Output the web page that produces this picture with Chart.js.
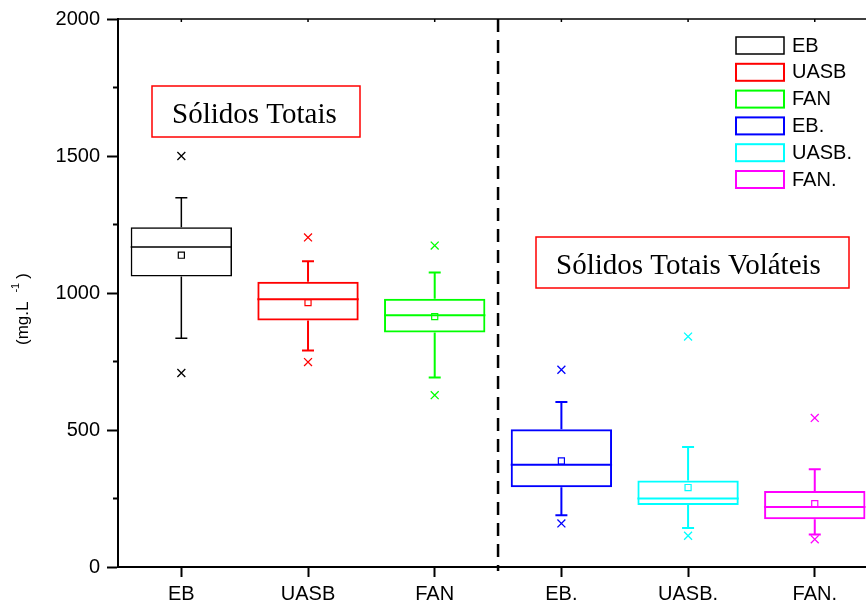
<!DOCTYPE html>
<html>
<head>
<meta charset="utf-8">
<title>Sólidos Totais</title>
<script src="https://cdn.jsdelivr.net/npm/chart.js@4.4.1/dist/chart.umd.min.js"></script>
<style>
  html, body { margin: 0; padding: 0; background: #fff; overflow: hidden; }
  #wrap { width: 866px; height: 602px; overflow: hidden; }
  canvas { display: block; }
</style>
</head>
<body>
<div id="wrap"><canvas id="chart" width="885" height="602"></canvas></div>
<script>
'use strict';

/* ── DATA (mg/L) ── */
const groups    = ['EB', 'UASB', 'FAN', 'EB.', 'UASB.', 'FAN.'];
const colors    = ['#000000', '#ff0000', '#00ff00', '#0000ff', '#00ffff', '#ff00ff'];
const q1        = [1060, 900, 856, 291, 226, 174];
const q3        = [1240, 1041, 979, 503, 316, 277];
const medians   = [1168, 977, 919, 373, 250, 219];
const means     = [1138, 965, 914, 387, 290, 231];
const whiskLow  = [835, 790, 692, 189, 142, 119];
const whiskHigh = [1348, 1116, 1075, 602, 438, 357];
const outHigh   = [1500, 1203, 1173, 720, 841, 544];
const outLow    = [708, 748, 627, 159, 114, 101];
const yTicks    = [0, 500, 1000, 1500, 2000];

const SANS  = "'Liberation Sans', Arial, sans-serif";
const SERIF = "'Liberation Serif', 'Times New Roman', serif";

// framed titles over the two halves of the plot
const notes = [
  { text: 'Sólidos Totais',          x: 152, y: 86,  w: 208, h: 51 },
  { text: 'Sólidos Totais Voláteis', x: 536, y: 237, w: 313, h: 51 }
];

/* ── DATASETS ── */
// one floating bar (q1..q3) per group, so each box keeps its own colour/legend entry
const boxSets = groups.map((g, i) => ({
  type: 'bar',
  label: g,
  data: groups.map((_, j) => (j === i ? [q1[i], q3[i]] : null)),
  backgroundColor: 'rgba(255,255,255,0)',
  borderColor: colors[i],
  borderWidth: i === 0 ? 1.5 : 2,
  borderSkipped: false,
  grouped: false,
  barPercentage: 0.8,
  categoryPercentage: 1.0
}));

const pointSet = (label, values, style, radius, width) => ({
  type: 'line',
  label: label,
  data: values,
  showLine: false,
  pointStyle: style,
  pointRadius: radius,
  pointHoverRadius: radius,
  pointBorderWidth: width,
  pointBorderColor: colors,
  pointBackgroundColor: 'rgba(255,255,255,0)'
});

/* ── EXTRA DRAWING: whiskers, medians, frame, legend, notes ── */
const boxExtras = {
  id: 'boxExtras',

  beforeDatasetsDraw(chart) {
    const { ctx, chartArea: a, scales: { x } } = chart;
    // dashed divider between the two families
    const xd = (x.getPixelForValue(2) + x.getPixelForValue(3)) / 2;
    ctx.save();
    ctx.strokeStyle = '#000';
    ctx.lineWidth = 2.5;
    ctx.setLineDash([13, 8]);
    ctx.beginPath();
    ctx.moveTo(xd, a.top);
    ctx.lineTo(xd, a.bottom + 4);
    ctx.stroke();
    ctx.restore();
  },

  afterDatasetsDraw(chart) {
    const { ctx, scales: { x, y } } = chart;
    ctx.save();
    groups.forEach((g, i) => {
      const bar = chart.getDatasetMeta(i).data[i];
      const cx = x.getPixelForValue(i);
      const cap = 6;
      ctx.strokeStyle = colors[i];
      ctx.lineWidth = i === 0 ? 1.5 : 2;
      ctx.beginPath();
      // upper whisker
      ctx.moveTo(cx, y.getPixelForValue(q3[i]));
      ctx.lineTo(cx, y.getPixelForValue(whiskHigh[i]));
      ctx.moveTo(cx - cap, y.getPixelForValue(whiskHigh[i]));
      ctx.lineTo(cx + cap, y.getPixelForValue(whiskHigh[i]));
      // lower whisker
      ctx.moveTo(cx, y.getPixelForValue(q1[i]));
      ctx.lineTo(cx, y.getPixelForValue(whiskLow[i]));
      ctx.moveTo(cx - cap, y.getPixelForValue(whiskLow[i]));
      ctx.lineTo(cx + cap, y.getPixelForValue(whiskLow[i]));
      // median
      const ym = y.getPixelForValue(medians[i]);
      ctx.moveTo(bar.x - bar.width / 2, ym);
      ctx.lineTo(bar.x + bar.width / 2, ym);
      ctx.stroke();
    });
    ctx.restore();
  },

  afterDraw(chart) {
    const { ctx, chartArea: a, scales: { x, y } } = chart;
    ctx.save();

    // top frame line with small inner ticks
    ctx.strokeStyle = '#000';
    ctx.lineWidth = 1.5;
    ctx.beginPath();
    ctx.moveTo(a.left, a.top);
    ctx.lineTo(a.right, a.top);
    groups.forEach((g, i) => {
      const cx = x.getPixelForValue(i);
      ctx.moveTo(cx, a.top);
      ctx.lineTo(cx, a.top + 3);
    });
    ctx.stroke();

    // minor ticks halfway between the labelled ones
    ctx.lineWidth = 2;
    ctx.beginPath();
    for (let k = 0; k < yTicks.length - 1; k++) {
      const yy = y.getPixelForValue((yTicks[k] + yTicks[k + 1]) / 2);
      ctx.moveTo(a.left - 5, yy);
      ctx.lineTo(a.left, yy);
    }
    ctx.stroke();

    // legend
    ctx.font = '20px ' + SANS;
    ctx.textBaseline = 'middle';
    ctx.textAlign = 'left';
    boxSets.forEach((ds, i) => {
      const top = 37 + i * 26.8;
      ctx.strokeStyle = ds.borderColor;
      ctx.lineWidth = i === 0 ? 1.5 : 2;
      ctx.strokeRect(736, top, 48, 17);
      ctx.fillStyle = '#000';
      ctx.fillText(ds.label, 792, top + 9);
    });

    // framed titles
    notes.forEach(n => {
      ctx.strokeStyle = '#ff0000';
      ctx.lineWidth = 1.5;
      ctx.strokeRect(n.x, n.y, n.w, n.h);
      ctx.fillStyle = '#000';
      ctx.font = '29px ' + SERIF;
      ctx.textBaseline = 'alphabetic';
      ctx.fillText(n.text, n.x + 20, n.y + 37);
    });

    // y axis unit, with superscript exponent
    ctx.translate(28, 345);
    ctx.rotate(-Math.PI / 2);
    ctx.fillStyle = '#000';
    ctx.textBaseline = 'alphabetic';
    ctx.font = '17px ' + SANS;
    const base = '(mg.L';
    ctx.fillText(base, 0, 0);
    const w = ctx.measureText(base).width;
    ctx.font = '11px ' + SANS;
    ctx.fillText('-1', w + 9, -9);
    const w2 = ctx.measureText('-1').width;
    ctx.font = '17px ' + SANS;
    ctx.fillText(')', w + 9 + w2 + 4, 0);

    ctx.restore();
  }
};

/* ── CHART ── */
new Chart(document.getElementById('chart'), {
  type: 'bar',
  data: {
    labels: groups,
    datasets: [
      ...boxSets,
      pointSet('mean', means, 'rect', 4.3, 1.2),
      pointSet('max', outHigh, 'crossRot', 5.6, 1.3),
      pointSet('min', outLow, 'crossRot', 5.6, 1.3)
    ]
  },
  options: {
    responsive: false,
    animation: false,
    events: [],
    layout: { padding: { left: 0, top: 18, right: 1, bottom: 0 } },
    plugins: {
      legend: { display: false },
      tooltip: { enabled: false }
    },
    scales: {
      x: {
        type: 'category',
        offset: true,
        grid: {
          offset: false,
          drawOnChartArea: false,
          drawTicks: true,
          tickLength: 10,
          tickWidth: 2,
          tickColor: '#000'
        },
        border: { display: true, width: 2, color: '#000' },
        ticks: { color: '#000', font: { family: SANS, size: 20 }, padding: 5, maxRotation: 0 },
        afterFit: s => { s.height = 35; }
      },
      y: {
        min: 0,
        max: 2000,
        afterBuildTicks: s => { s.ticks = yTicks.map(v => ({ value: v })); },
        grid: {
          drawOnChartArea: false,
          drawTicks: true,
          tickLength: 11,
          tickWidth: 2,
          tickColor: '#000'
        },
        border: { display: true, width: 2, color: '#000' },
        ticks: {
          color: '#000',
          font: { family: SANS, size: 20 },
          padding: 7,
          callback: v => String(v)
        },
        afterFit: s => { s.width = 118; }
      }
    }
  },
  plugins: [boxExtras]
});
</script>
</body>
</html>
